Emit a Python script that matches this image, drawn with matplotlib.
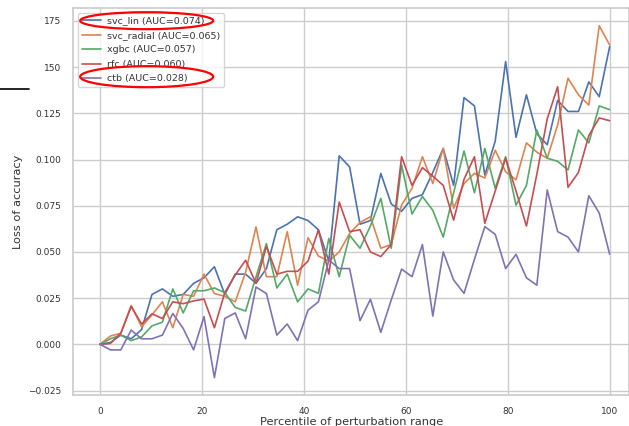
import numpy as np
import matplotlib
matplotlib.use("Agg")
import matplotlib.pyplot as plt
import seaborn as sns
from matplotlib.patches import Ellipse
from matplotlib.lines import Line2D

percentile = np.linspace(0, 100, 50)

svc_lin = [0, .001, .005, .003, .008, .027, .030, .026, .027, .033,
           .036, .042, .027, .038, .038, .033, .041, .062, .065, .069,
           .067, .062, .045, .102, .096, .065, .067, .0925, .076, .072,
           .079, .081, .093, .106, .086, .1335, .129, .0916, .11, .153,
           .112, .135, .114, .108, .132, .126, .126, .142, .134, .161]
svc_radial = [0, .0045, .006, .021, .0095, .016, .023, .009, .027, .026,
              .038, .0275, .026, .023, .039, .0635, .0366, .0366, .061, .032,
              .0577, .0478, .045, .050, .060, .066, .069, .052, .054, .0754,
              .0844, .1015, .087, .106, .0736, .087, .0925, .090, .105, .0934,
              .089, .109, .104, .1007, .1187, .144, .135, .1295, .1724, .162]
xgbc = [0, .003, .005, .002, .004, .010, .012, .030, .017, .029,
        .029, .0305, .028, .020, .018, .0365, .0545, .0305, .038, .023,
        .030, .0276, .0573, .0366, .059, .052, .064, .079, .052, .097,
        .0705, .080, .0725, .058, .082, .1046, .082, .106, .0844, .1015,
        .0753, .086, .116, .1007, .099, .0944, .116, .109, .129, .127]
rfc = [0, .0005, .006, .0205, .011, .0165, .014, .023, .022, .0235,
       .0245, .009, .028, .0375, .0455, .033, .053, .038, .0395, .0395,
       .045, .062, .038, .077, .061, .062, .050, .0475, .054, .1015,
       .086, .0956, .091, .086, .0672, .0893, .1015, .0655, .083, .1007,
       .083, .064, .092, .122, .1394, .085, .093, .113, .1225, .121]
ctb = [0, -.003, -.003, .0077, .003, .003, .005, .0167, .0086, -.003,
       .015, -.018, .014, .017, .003, .031, .0275, .005, .011, .002,
       .0185, .023, .0456, .041, .041, .0128, .0244, .0065, .024, .0407,
       .0366, .054, .0153, .050, .0348, .0276, .046, .0637, .0595, .041,
       .0487, .036, .032, .0835, .061, .058, .050, .0804, .071, .0488]

series_names = ["svc_lin", "svc_radial", "xgbc", "rfc", "ctb"]
auc_values = [0.074, 0.065, 0.057, 0.060, 0.028]
series_data = [svc_lin, svc_radial, xgbc, rfc, ctb]

y_ticks = [-0.025, 0.0, 0.025, 0.05, 0.075, 0.1, 0.125, 0.15, 0.175]
y_tick_labels = ["\u22120.025", "0.000", "0.025", "0.050", "0.075",
                 "0.100", "0.125", "150", "175"]
x_ticks = [0, 20, 40, 60, 80, 100]

sns.set_theme(style="whitegrid")
plt.rcParams['font.family'] = ['DejaVu Sans']

fig = plt.figure(figsize=(6.29, 4.26), dpi=100)
ax = fig.add_axes([0.1166, 0.0728, 0.8834, 0.9085])
colors = sns.color_palette("deep")

for name, auc, data, c in zip(series_names, auc_values, series_data, colors):
    ax.plot(percentile, data, color=c, lw=1.2, label=f"{name} (AUC={auc:.3f})")

ax.set_xlim(-5.23, 103.8)
ax.set_ylim(-0.0274, 0.182)
ax.set_xticks(x_ticks)
ax.set_yticks(y_ticks)
ax.set_yticklabels(y_tick_labels)
ax.tick_params(labelsize=6.5, colors='#333333', pad=3)
ax.set_xlabel("Percentile of perturbation range", fontsize=8.2, color='#333333', labelpad=0.5)
ax.set_ylabel("Loss of accuracy", fontsize=8.2, color='#333333', labelpad=3)
for s in ax.spines.values():
    s.set_color('#cccccc')

leg = ax.legend(loc='upper left', fontsize=6.8, frameon=True, borderpad=0.4,
                labelspacing=0.58, handlelength=2.0, handletextpad=0.7,
                bbox_to_anchor=(0.0, 1.0))
leg.get_frame().set_edgecolor('#cccccc')
for t in leg.get_texts():
    t.set_color('#333333')

# annotation ellipses (figure pixel coordinates)
W, H = 629, 426
for cx, cy, w, h in [(146.7, 20.7, 133, 17), (146.7, 76.7, 133, 21)]:
    e = Ellipse((cx / W, 1 - cy / H), w / W, h / H, transform=fig.transFigure,
                fill=False, edgecolor='red', lw=1.6, zorder=10)
    fig.patches.append(e)
fig.lines.append(Line2D([0, 29.3 / W], [1 - 89.3 / H, 1 - 89.3 / H],
                        transform=fig.transFigure, color='black', lw=1.2))

fig.savefig("out.png", dpi=100)
